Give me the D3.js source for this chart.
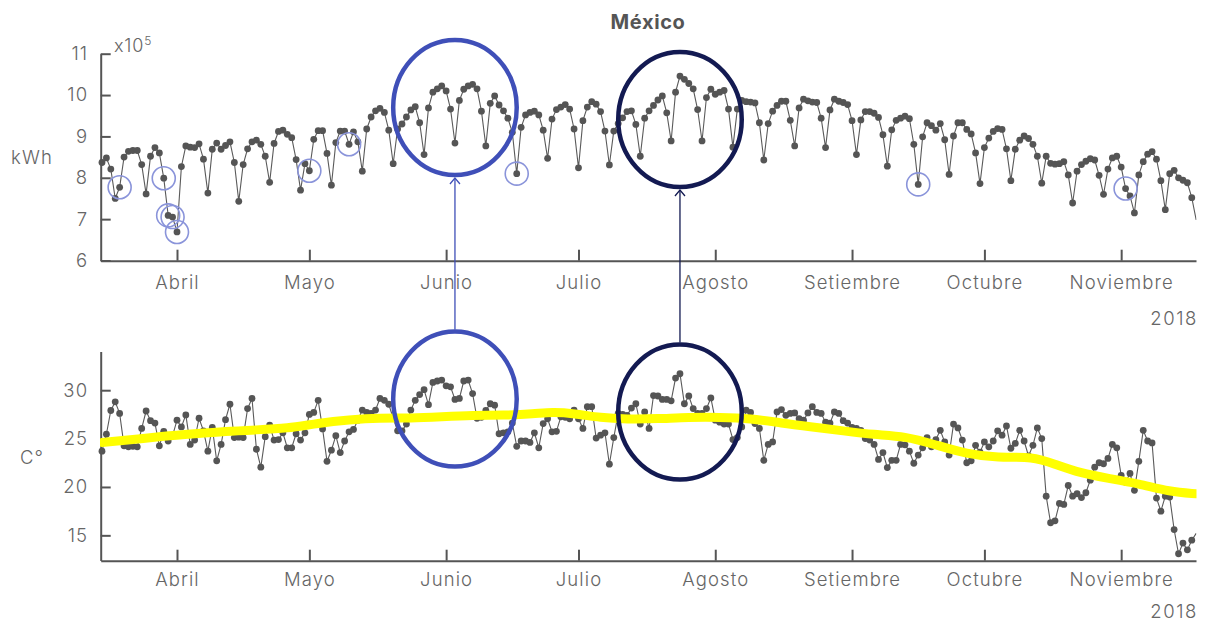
<!DOCTYPE html>
<html><head><meta charset="utf-8">
<script src="https://cdn.jsdelivr.net/npm/d3@7"></script>
<style>
body{margin:0;background:#fff}
svg{display:block}
text{font-family:Inter,'Open Sans',sans-serif;fill:#666}
</style>
</head><body>
<svg id="chart" width="1206" height="623"></svg>
<script>
// ---------------- DATA ----------------
// Daily series starting 2018-03-15 (one value per day)
const firstDay = [2018, 2, 15];
// Electricity demand, units of 1e5 kWh
const kwh = [
8.37,8.48,8.21,7.50,7.77,8.50,8.64,8.66,8.66,8.32,7.61,8.52,8.73,8.60,7.99,7.09,7.05,
6.69,8.27,8.77,8.74,8.73,8.82,8.45,7.63,8.69,8.84,8.69,8.78,8.87,8.37,7.43,8.32,8.70,8.87,8.91,8.81,8.52,7.89,8.83,9.12,9.15,9.05,8.97,8.44,7.70,8.34,
8.17,8.93,9.14,9.14,8.59,7.82,8.85,9.13,9.13,8.81,9.11,8.87,8.16,9.18,9.47,9.62,9.68,9.58,9.15,8.34,9.18,9.30,9.47,9.64,9.72,9.33,8.56,9.69,10.07,10.15,10.22,
10.10,9.66,8.84,9.87,10.14,10.22,10.26,10.15,9.61,8.77,9.80,9.98,9.76,9.62,9.44,9.10,8.10,9.22,9.52,9.58,9.61,9.52,9.15,8.47,9.42,9.65,9.71,9.77,9.66,9.18,
8.24,9.38,9.71,9.84,9.78,9.60,9.13,8.31,9.13,9.31,9.45,9.60,9.62,9.29,8.52,9.44,9.62,9.75,9.88,9.98,9.57,8.89,10.07,10.46,10.38,10.28,10.15,9.65,8.89,9.94,10.14,
10.02,10.07,10.11,9.66,8.74,9.66,9.87,9.84,9.83,9.81,9.33,8.43,9.31,9.61,9.75,9.85,9.85,9.39,8.77,9.69,9.90,9.86,9.83,9.82,9.44,8.73,9.64,9.90,9.85,9.82,9.77,
9.38,8.56,9.40,9.60,9.60,9.56,9.46,9.04,8.28,9.16,9.39,9.44,9.49,9.43,8.81,7.84,8.99,9.33,9.26,9.15,9.31,8.92,8.08,9.01,9.33,9.33,9.17,9.06,8.60,7.86,
8.73,8.96,9.12,9.19,9.17,8.70,7.93,8.69,8.91,9.01,8.95,8.81,8.52,7.87,8.52,8.35,8.33,8.34,8.39,8.07,7.39,8.16,8.32,8.40,8.46,8.43,8.06,7.60,8.21,8.48,8.52,
8.26,7.74,7.56,7.15,8.07,8.39,8.57,8.63,8.45,7.93,7.23,8.10,8.18,8.00,7.94,7.88,7.52,6.98
];
// Daily temperature, °C
const temp = [
23.7,25.45,27.9,28.8,27.6,24.25,24.15,24.2,24.15,26.05,27.85,26.85,26.6,24.25,25.75,24.75,25.3,
26.9,26.2,27.45,24.4,24.85,27.1,25.8,23.7,26.15,22.7,24.4,26.95,28.55,25.1,25.15,25.1,28.1,29.15,23.9,22.05,25.2,26.4,24.85,24.9,25.6,24.05,24.05,25.5,24.85,25.6,
27.5,27.7,28.95,26.0,22.65,23.8,25.3,23.55,24.75,25.7,25.95,26.9,27.95,27.7,27.6,27.95,29.15,28.95,28.55,27.1,25.8,25.8,26.5,27.95,28.95,29.55,30.05,28.5,30.8,30.95,31.05,
30.45,30.35,29.05,29.15,30.95,31.05,29.65,27.1,27.2,27.9,28.6,28.45,25.5,25.6,25.7,26.6,24.2,24.75,24.75,24.6,25.6,24.05,26.55,27.05,25.7,25.75,27.25,27.2,27.05,27.95,
27.05,26.05,28.3,28.3,25.05,25.35,25.6,22.35,25.1,27.6,27.5,27.4,28.15,28.6,26.5,27.75,26.05,29.45,29.4,29.05,29.05,28.9,31.25,31.7,28.6,29.4,28.1,27.6,27.6,28.1,29.2,
26.9,26.7,26.5,26.5,24.9,25.1,26.2,27.95,27.7,26.55,26.05,22.75,24.4,24.65,27.75,28.0,27.4,27.6,27.65,27.05,26.9,27.65,28.3,27.7,27.6,26.7,26.6,27.75,27.6,26.85,26.6,
26.15,26.05,25.85,25.0,24.85,24.4,22.85,23.55,22.0,22.75,22.75,24.4,24.35,23.7,22.45,23.3,24.05,25.1,24.15,24.9,25.85,24.65,23.3,26.5,26.1,24.85,22.5,22.7,24.3,23.6,
24.65,24.15,24.75,25.8,25.35,26.3,24.0,24.5,25.85,24.75,23.2,24.3,26.1,25.0,19.05,16.3,16.5,18.3,18.2,20.15,19.05,19.3,18.9,19.4,20.7,22.05,22.5,22.4,22.95,24.4,24.05,
21.2,20.5,21.4,19.65,22.65,25.85,24.75,24.55,18.85,17.5,19.05,18.95,15.6,13.1,14.2,13.5,14.5,15.2
];
// Smoothed temperature trend (day offset from first day, °C)
const trendDay  = [0,7,14,21,28,35,42,49,56,63,70,77,84,91,98,102,107,113,119,126,133,140,147,154,161,168,175,182,189,196,203,211,216,222,228,235,242,248];
const trendTemp = [24.6,24.9,25.25,25.5,25.75,25.9,26.05,26.6,26.95,27.15,27.1,27.25,27.4,27.4,27.55,27.75,27.6,27.15,27.0,27.05,27.2,27.2,27.1,26.6,26.2,25.8,25.4,25.25,24.35,23.4,23.0,23.15,22.35,21.4,20.9,20.35,19.5,19.3];
// Month tick labels (first of each month, April..November 2018)
const monthLabels = ["Abril","Mayo","Junio","Julio","Agosto","Setiembre","Octubre","Noviembre"];
const kwhTicks  = [6,7,8,9,10,11];
const tempTicks = [15,20,25,30];
// Holidays marked with small circles (day offsets)
const holidayDays = [4,14,15,16,17,47,56,94,185,232];
// Highlighted periods (ellipses): center day offset, half-width days
const highlightCenterDay = [80.8, 131.8];
const highlightHalfDays  = [13.7, 13.8];

// ---------------- SETUP ----------------
const svg = d3.select("#chart");
const FONT = "Inter,'Open Sans',sans-serif";
const dateOf = i => new Date(firstDay[0], firstDay[1], firstDay[2] + i);
const x = d3.scaleTime()
  .domain([new Date(2018,2,14,17), new Date(2018,10,17,23)])
  .range([100.7, 1196]);
const yK = d3.scaleLinear().domain([6,11]).range([260.5, 53.7]);
const yT = d3.scaleLinear().domain([12.4,34]).range([560.5, 351.5]);
const inDomain = i => dateOf(i) <= x.domain()[1];

const axisColor = "#555";
const dotColor = "#555";
const monthTicks = monthLabels.map((m,k) => new Date(2018, 3 + k, 1));

svg.append("defs").append("clipPath").attr("id","clip")
  .append("rect").attr("x",100).attr("y",0).attr("width",1096.5).attr("height",623);

function styleText(sel) {
  sel.attr("font-size", 18.5).attr("font-family", FONT)
     .style("fill", "#666").style("font-weight", 300).attr("letter-spacing", 1.1);
}
function drawXAxis(yPos, pad) {
  const g = svg.append("g").attr("transform", `translate(0,${yPos})`)
    .call(d3.axisBottom(x).tickValues(monthTicks)
      .tickFormat((d,k) => monthLabels[k]).tickSizeInner(-11).tickSizeOuter(0).tickPadding(pad));
  g.select(".domain").attr("stroke", axisColor).attr("stroke-width", 2);
  g.selectAll(".tick line").attr("stroke", axisColor).attr("stroke-width", 2);
  styleText(g.selectAll(".tick text"));
}
function drawYAxis(scale, ticks) {
  const g = svg.append("g").attr("transform", `translate(100.7,0)`)
    .call(d3.axisLeft(scale).tickValues(ticks).tickFormat(d3.format("d"))
      .tickSizeInner(-10).tickSizeOuter(0).tickPadding(12.5));
  g.select(".domain").attr("stroke", axisColor).attr("stroke-width", 2);
  g.selectAll(".tick line").attr("stroke", axisColor).attr("stroke-width", 2);
  styleText(g.selectAll(".tick text"));
}

// ---------------- TOP PANEL ----------------
const lineK = d3.line().x((d,i) => x(dateOf(i))).y(d => yK(d));
svg.append("path").datum(kwh).attr("clip-path","url(#clip)")
  .attr("d", lineK).attr("fill","none").attr("stroke","#5a5a5a").attr("stroke-width",1.1);
drawXAxis(260.7, 15.5);
drawYAxis(yK, kwhTicks);
svg.append("g").selectAll("circle").data(kwh.map((v,i)=>({v,i})).filter(d=>inDomain(d.i)))
  .join("circle").attr("cx", d => x(dateOf(d.i))).attr("cy", d => yK(d.v))
  .attr("r", 3.4).attr("fill", dotColor);
svg.append("g").selectAll("circle").data(holidayDays).join("circle")
  .attr("cx", i => x(dateOf(i))).attr("cy", i => yK(kwh[i]))
  .attr("r", 11.5).attr("fill","none").attr("stroke","#8a94da").attr("stroke-width",1.6);

// ---------------- BOTTOM PANEL ----------------
const lineT = d3.line().x((d,i) => x(dateOf(i))).y(d => yT(d));
svg.append("path").datum(temp).attr("clip-path","url(#clip)")
  .attr("d", lineT).attr("fill","none").attr("stroke","#5a5a5a").attr("stroke-width",1.1);
drawXAxis(560.7, 12);
drawYAxis(yT, tempTicks);
svg.append("g").selectAll("circle").data(temp.map((v,i)=>({v,i})).filter(d=>inDomain(d.i)))
  .join("circle").attr("cx", d => x(dateOf(d.i))).attr("cy", d => yT(d.v))
  .attr("r", 3.4).attr("fill", dotColor);
const trend = trendDay.map((d,k) => [d, trendTemp[k]]);
svg.append("path").datum(trend).attr("clip-path","url(#clip)")
  .attr("d", d3.line().curve(d3.curveBasis).x(d => x(dateOf(d[0]))).y(d => yT(d[1])))
  .attr("fill","none").attr("stroke","#ffff00").attr("stroke-width",9).attr("stroke-linecap","round");

// ---------------- HIGHLIGHT ELLIPSES & ARROWS ----------------
const ellColors = ["#3f4fb8", "#131a52"];
const topCY = [107.5, 119.5], botCY = [399, 412], ry = 67.5;
highlightCenterDay.forEach((cd, k) => {
  const cx = x(dateOf(cd));
  const rx = x(dateOf(cd + highlightHalfDays[k])) - cx;
  [topCY[k], botCY[k]].forEach(cy => {
    svg.append("ellipse").attr("cx", cx).attr("cy", cy).attr("rx", rx).attr("ry", ry)
      .attr("fill","none").attr("stroke", ellColors[k]).attr("stroke-width", 4.5);
  });
  const y1 = botCY[k] - ry - 2, y2 = topCY[k] + ry + 3;
  svg.append("line").attr("x1",cx).attr("x2",cx).attr("y1",y1).attr("y2",y2)
    .attr("stroke", ellColors[k]).attr("stroke-width",1.3);
  svg.append("path").attr("d", `M${cx-5},${y2+6}L${cx},${y2}L${cx+5},${y2+6}`)
    .attr("fill","none").attr("stroke", ellColors[k]).attr("stroke-width",1.3);
});

// ---------------- TEXT ----------------
svg.append("text").attr("x", 648).attr("y", 29).attr("text-anchor","middle")
  .attr("font-size", 20).attr("letter-spacing", 0.6)
  .style("font-weight", 700).style("fill","#555").text("México");
const xl = svg.append("text").attr("x", 114).attr("y", 52).attr("font-size", 18)
  .attr("letter-spacing", 0.8).style("font-weight", 300);
xl.append("tspan").text("x10");
xl.append("tspan").attr("font-size", 12).attr("dy", -7).text("5");
function plainLabel(xp, yp, anchor, txt) {
  const t = svg.append("text").attr("x", xp).attr("y", yp).attr("text-anchor", anchor).text(txt);
  styleText(t);
  return t;
}
plainLabel(32, 164, "middle", "kWh");
plainLabel(32, 464, "middle", "C°");
plainLabel(1198, 325, "end", "2018").attr("letter-spacing", 1.6);
plainLabel(1198, 618, "end", "2018").attr("letter-spacing", 1.6);
</script>
</body></html>
